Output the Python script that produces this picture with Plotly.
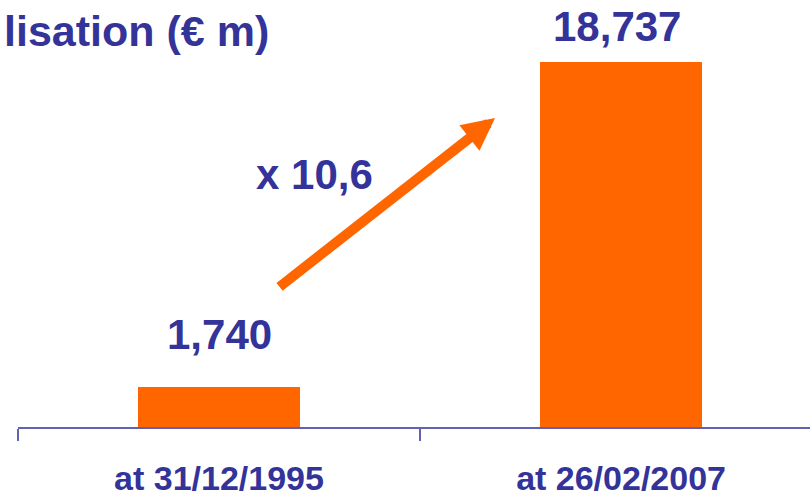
import plotly.graph_objects as go

categories = ["at 31/12/1995", "at 26/02/2007"]
values = [1740, 18737]
value_labels = ["1,740", "18,737"]
title_text = "lisation (€ m)"
growth_text = "x 10,6"

ORANGE = "#FF6600"
BLUE = "#333399"
AXIS = "#6262B0"
FONT = "Liberation Sans, Arial, sans-serif"

y_min, y_max = -352, 21979
fig = go.Figure()
fig.add_trace(go.Bar(
    x=categories, y=[v - y_min for v in values], base=y_min,
    marker=dict(color=ORANGE, line=dict(width=0)),
    width=0.403, hoverinfo="skip",
))

# value labels
shifts = [53, 35]
xshifts = [0, -4]
for c, v, t, s, xs in zip(categories, values, value_labels, shifts, xshifts):
    fig.add_annotation(x=c, y=v, text="<b>%s</b>" % t, showarrow=False,
                       yanchor="middle", yshift=s, xshift=xs,
                       font=dict(family=FONT, size=42, color=BLUE))

# growth arrow (between the bars)
fig.add_annotation(x=0.6866, y=15808, ax=0.1468, ay=6917,
                   xref="x", yref="y", axref="x", ayref="y",
                   text="", showarrow=True, arrowhead=2, arrowsize=0.65,
                   arrowwidth=10, arrowcolor=ORANGE, standoff=0, startstandoff=0)
fig.add_annotation(x=0.2375, y=12850, xref="x", yref="y",
                   text="<b>%s</b>" % growth_text, showarrow=False,
                   font=dict(family=FONT, size=42, color=BLUE))

# title (starts at the left edge, as in the source)
fig.add_annotation(x=0, y=1, xref="paper", yref="paper", xanchor="left",
                   yanchor="top", xshift=-16, yshift=-5,
                   text="<b>%s</b>" % title_text,
                   showarrow=False, font=dict(family=FONT, size=43, color=BLUE))

fig.update_layout(
    width=810, height=498,
    margin=dict(l=18, r=0, t=0, b=71),
    paper_bgcolor="white", plot_bgcolor="white",
    showlegend=False, bargap=0,
    xaxis=dict(type="category", range=[-0.5, 1.47], tickson="boundaries",
               automargin=False,
               showline=True, linecolor=AXIS, linewidth=2,
               ticks="outside", ticklen=12, tickwidth=2, tickcolor=AXIS,
               showgrid=False, zeroline=False, ticklabelstandoff=20,
               tickfont=dict(family=FONT, size=34, color=BLUE, weight="bold")),
    yaxis=dict(range=[y_min, y_max], visible=False, showgrid=False,
               zeroline=False, automargin=False),
)

fig.write_html("out.html")
